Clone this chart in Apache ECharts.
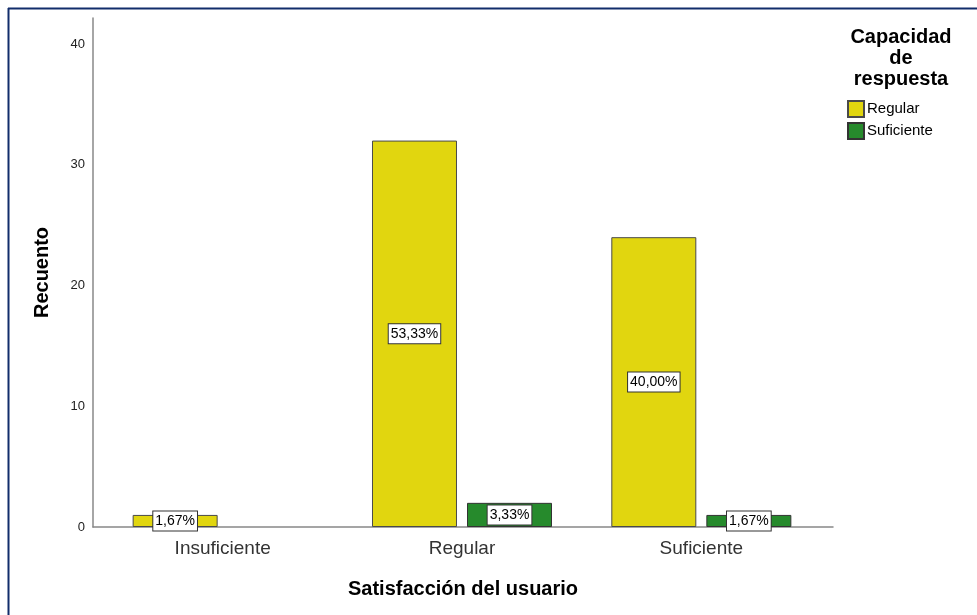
<!DOCTYPE html>
<html>
<head>
<meta charset="utf-8">
<script src="https://cdn.jsdelivr.net/npm/echarts@6/dist/echarts.min.js"></script>
<style>html,body{margin:0;padding:0;background:#fff}#c{width:977px;height:615px}</style>
</head>
<body>
<div id="c"></div>
<script>
const categories = ['Insuficiente', 'Regular', 'Suficiente'];
const seriesNames = ['Regular', 'Suficiente'];
const regularValues = [1, 32, 24];
const suficienteValues = [null, 2, 1];
const yTicks = [0, 10, 20, 30, 40];

const total = regularValues.concat(suficienteValues).reduce((a, b) => a + (b || 0), 0);
const pct = v => (v / total * 100).toFixed(2).replace('.', ',') + '%';

const FONT = '"Liberation Sans", Arial, sans-serif';
const chart = echarts.init(document.getElementById('c'), null, {renderer: 'canvas'});

const labelStyle = {
  show: true,
  position: 'inside',
  formatter: p => pct(p.value),
  fontFamily: FONT,
  fontSize: 14,
  color: '#000',
  backgroundColor: '#fff',
  borderColor: '#333',
  borderWidth: 1,
  padding: [3, 2, 2, 2]
};

chart.setOption({
  animation: false,
  backgroundColor: '#fff',
  graphic: [
    {type: 'line', shape: {x1: 8, y1: 8.5, x2: 977, y2: 8.5}, style: {stroke: '#122d6b', lineWidth: 2}},
    {type: 'line', shape: {x1: 8.5, y1: 8, x2: 8.5, y2: 615}, style: {stroke: '#122d6b', lineWidth: 2}}
  ],
  title: {
    text: 'Capacidad\nde\nrespuesta',
    left: 896,
    top: 22,
    textAlign: 'center',
    textStyle: {fontFamily: FONT, fontSize: 20, fontWeight: 'bold', color: '#000', lineHeight: 21, align: 'center'}
  },
  legend: {
    data: seriesNames,
    orient: 'vertical',
    left: 847,
    top: 100,
    padding: 0,
    itemWidth: 16,
    itemHeight: 16,
    itemGap: 4,
    icon: 'rect',
    textStyle: {fontFamily: FONT, fontSize: 15, color: '#000', padding: [0, 0, 0, -2]}
  },
  grid: [
    {left: 93, right: 144, top: 18, bottom: 88},
    {left: 103, right: 156, top: 18, bottom: 88}
  ],
  xAxis: [
    {
      gridIndex: 0, type: 'category', data: categories,
      axisLine: {show: true, lineStyle: {color: '#888', width: 1.5}},
      axisTick: {show: false}, axisLabel: {show: false}, splitLine: {show: false},
      name: 'Satisfacción del usuario', nameLocation: 'middle', nameGap: 52,
      nameMoveOverlap: false,
      nameTextStyle: {fontFamily: FONT, fontSize: 20, fontWeight: 'bold', color: '#000'}
    },
    {
      gridIndex: 1, type: 'category', data: categories,
      axisLine: {show: false}, axisTick: {show: false}, splitLine: {show: false},
      axisLabel: {fontFamily: FONT, fontSize: 19, color: '#333', margin: 12}
    }
  ],
  yAxis: [
    {
      gridIndex: 0, type: 'value', min: 0, max: 42.15, interval: 10,
      axisLine: {show: true, lineStyle: {color: '#888', width: 1.5}},
      axisTick: {show: false}, splitLine: {show: false},
      axisLabel: {fontFamily: FONT, fontSize: 13, color: '#222', margin: 8,
        formatter: v => (yTicks.indexOf(v) >= 0 ? String(v) : '')},
      name: 'Recuento', nameLocation: 'middle', nameGap: 41, nameRotate: 90,
      nameMoveOverlap: false,
      nameTextStyle: {fontFamily: FONT, fontSize: 20, fontWeight: 'bold', color: '#000'}
    },
    {
      gridIndex: 1, type: 'value', min: 0, max: 42.15, interval: 10, show: false
    }
  ],
  series: [
    {
      name: seriesNames[0], type: 'bar', xAxisIndex: 1, yAxisIndex: 1,
      data: regularValues, barWidth: 85, barGap: '11.8%',
      itemStyle: {color: '#e1d60f', borderColor: '#4a4a4a', borderWidth: 1},
      label: labelStyle
    },
    {
      name: seriesNames[1], type: 'bar', xAxisIndex: 1, yAxisIndex: 1,
      data: suficienteValues, barWidth: 85, barGap: '11.8%',
      itemStyle: {color: '#268a2c', borderColor: '#333', borderWidth: 1},
      label: labelStyle
    }
  ]
});
</script>
</body>
</html>
